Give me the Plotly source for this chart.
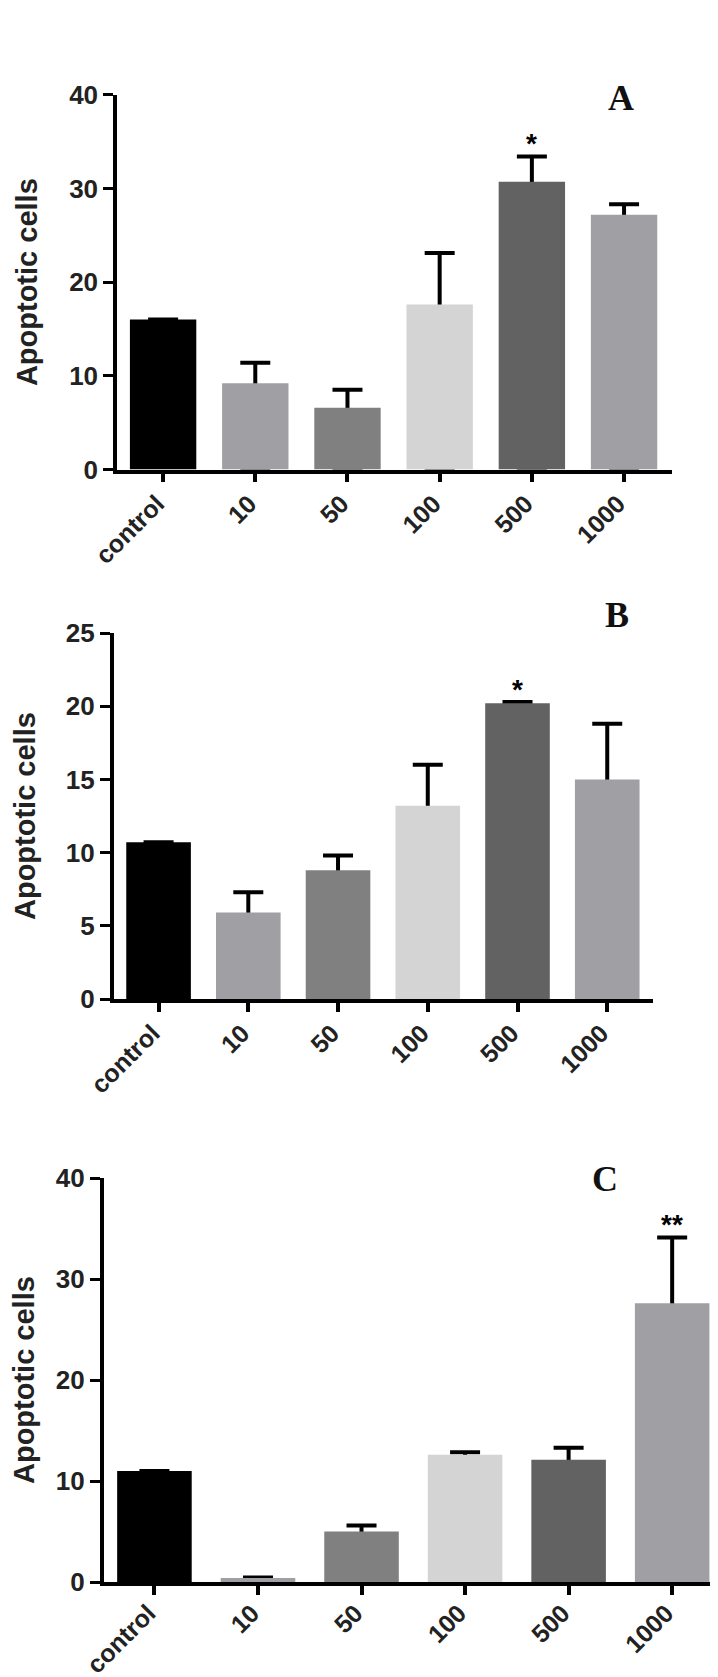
import plotly.graph_objects as go

W, H = 718, 1677

categories = ["control", "10", "50", "100", "500", "1000"]
bar_colors = ["#000000", "#a0a0a4", "#808080", "#d4d4d4", "#626262", "#a0a0a4"]

values_a = [16.0, 9.2, 6.6, 17.6, 30.7, 27.2]
errors_a = [None, 2.2, 1.9, 5.5, 2.7, 1.1]
signif_a = ["", "", "", "", "*", ""]
ticks_a = [0, 10, 20, 30, 40]

values_b = [10.7, 5.9, 8.8, 13.2, 20.2, 15.0]
errors_b = [None, 1.4, 1.0, 2.8, 0.08, 3.8]
signif_b = ["", "", "", "", "*", ""]
ticks_b = [0, 5, 10, 15, 20, 25]

values_c = [11.0, 0.4, 5.0, 12.6, 12.1, 27.6]
errors_c = [None, 0.05, 0.6, 0.25, 1.2, 6.5]
signif_c = ["", "", "", "", "", "**"]
ticks_c = [0, 10, 20, 30, 40]

panels = [
    dict(vals=values_a, errs=errors_a, sig=signif_a, ticks=ticks_a, letter="A",
         x0=109, x1=664, ytop=86.7, ybot=461.5, xr=[-0.5, 5.52],
         title_x=19, letter_xy=(613, 90), standoff=-3),
    dict(vals=values_b, errs=errors_b, sig=signif_b, ticks=ticks_b, letter="B",
         x0=105.7, x1=645, ytop=625, ybot=991, xr=[-0.5, 5.51],
         title_x=17, letter_xy=(609, 607), standoff=-3),
    dict(vals=values_c, errs=errors_c, sig=signif_c, ticks=ticks_c, letter="C",
         x0=95.7, x1=718, ytop=1170, ybot=1574, xr=[-0.49, 5.52],
         title_x=16, letter_xy=(597, 1171), standoff=-6),
]

FONT = "Liberation Sans, Arial, sans-serif"
fig = go.Figure()
annotations = []

for i, p in enumerate(panels, start=1):
    xs = "x" if i == 1 else f"x{i}"
    ys = "y" if i == 1 else f"y{i}"
    # carrier trace for the (upper-only) error bars, drawn beneath the visible bars
    fig.add_trace(go.Bar(
        x=categories, y=p["vals"], xaxis=xs, yaxis=ys,
        marker=dict(color="rgba(0,0,0,0)", line=dict(width=0)),
        width=0.72,
        error_y=dict(type="data", symmetric=False, array=p["errs"],
                     arrayminus=[v if e is not None else None
                                 for v, e in zip(p["vals"], p["errs"])],
                     color="#000000", thickness=4, width=15, visible=True),
        showlegend=False, hoverinfo="skip",
    ))
    fig.add_trace(go.Bar(
        x=categories, y=p["vals"], xaxis=xs, yaxis=ys,
        marker=dict(color=bar_colors, line=dict(width=0)),
        width=0.72, showlegend=False, hoverinfo="skip",
    ))
    xdom = [p["x0"] / W, p["x1"] / W]
    ydom = [1 - p["ybot"] / H, 1 - p["ytop"] / H]
    xkey = "xaxis" if i == 1 else f"xaxis{i}"
    ykey = "yaxis" if i == 1 else f"yaxis{i}"
    fig.update_layout(**{
        xkey: dict(domain=xdom, anchor=ys, type="category", range=p["xr"],
                   automargin=False,
                   showline=True, linewidth=3.5, linecolor="#000000",
                   ticks="outside", ticklen=9, tickwidth=3.5, tickcolor="#000000",
                   tickangle=-45, showgrid=False, zeroline=False,
                   ticklabelstandoff=p["standoff"], ticklabelshift=-6,
                   tickfont=dict(family=FONT, size=25, color="#222222", weight=700)),
        ykey: dict(domain=ydom, anchor=xs, range=[0, p["ticks"][-1]],
                   automargin=False,
                   tickvals=p["ticks"], ticktext=[str(t) for t in p["ticks"]],
                   showline=True, linewidth=3.5, linecolor="#000000",
                   ticks="outside", ticklen=10, tickwidth=3, tickcolor="#000000",
                   showgrid=False, zeroline=False,
                   tickfont=dict(family=FONT, size=26, color="#222222", weight=700)),
    })
    # axis title
    annotations.append(dict(
        text="<b>Apoptotic cells</b>", textangle=-90, xref="paper", yref="paper",
        x=p["title_x"] / W, y=1 - (p["ytop"] + p["ybot"]) / 2 / H,
        xanchor="center", yanchor="middle", showarrow=False,
        font=dict(family=FONT, size=29, color="#222222")))
    # panel letter
    annotations.append(dict(
        text="<b>" + p["letter"] + "</b>", xref="paper", yref="paper",
        x=p["letter_xy"][0] / W, y=1 - p["letter_xy"][1] / H,
        xanchor="center", yanchor="middle", showarrow=False,
        font=dict(family="Liberation Serif, Times New Roman, serif", size=36,
                  color="#111111")))
    # significance marks (category axis -> use category index)
    for k, (v, e, s) in enumerate(zip(p["vals"], p["errs"], p["sig"])):
        if s:
            annotations.append(dict(
                text="<b>" + s + "</b>", xref=xs, yref=ys, x=k, y=v + (e or 0),
                xanchor="center", yanchor="middle", yshift=13, showarrow=False,
                font=dict(family=FONT, size=28, color="#000000")))

fig.update_layout(
    width=W, height=H,
    margin=dict(l=0, r=0, t=0, b=0, pad=0, autoexpand=False),
    paper_bgcolor="white", plot_bgcolor="white",
    annotations=annotations, barmode="overlay",
)

fig.write_html("out.html")
